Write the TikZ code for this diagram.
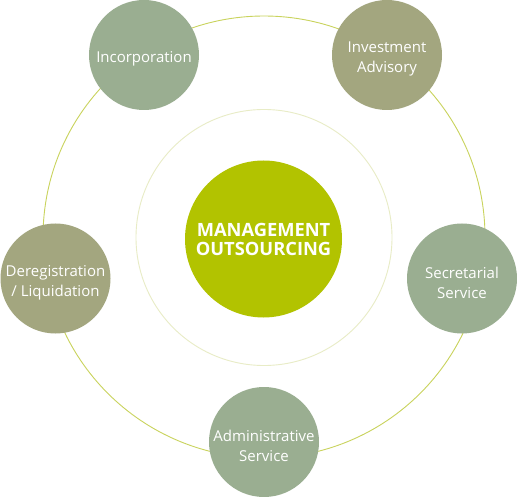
\documentclass[tikz,border=0pt]{standalone}
\usepackage{fontspec}
\setmainfont{Open Sans}
\definecolor{sage}{HTML}{9AAE91}
\definecolor{olive}{HTML}{A3A67F}
\definecolor{lime}{HTML}{B2C300}
\definecolor{ringA}{HTML}{C9D35C}
\definecolor{ringB}{HTML}{E8ECC6}
\begin{document}
\begin{tikzpicture}[x=1pt,y=-1pt,
  sat/.style={circle,minimum size=110pt,inner sep=0pt},
  lbl/.style={text=white,align=center,inner sep=0pt,yshift=-4pt,font=\fontsize{15}{20}\selectfont},
  hub/.style={circle,fill=lime,minimum size=157pt,inner sep=0pt,text=white,align=center,font=\bfseries\fontsize{18.3}{19}\selectfont}]
\useasboundingbox (0,0) rectangle (517,497);
\fill[white] (0,0) rectangle (517,497);
\draw[ringA,line width=0.9pt] (264,237) circle[radius=221];
\draw[ringB,line width=0.9pt] (264,237.5) circle[radius=128];
\node[hub] (hub) at (263.5,239) {MANAGEMENT\\OUTSOURCING};
\node[sat,fill=sage,label={[lbl]center:Incorporation}] (inc) at (144,55) {};
\node[sat,fill=olive,label={[lbl]center:Investment\\Advisory}] (inv) at (387,55) {};
\node[sat,fill=olive,label={[lbl]center:Deregistration\\/ Liquidation}] (der) at (55.5,278.5) {};
\node[sat,fill=sage,label={[lbl]center:Secretarial\\Service}] (sec) at (462,278.5) {};
\node[sat,fill=sage,label={[lbl]center:Administrative\\Service}] (adm) at (264,442) {};
\end{tikzpicture}
\end{document}
